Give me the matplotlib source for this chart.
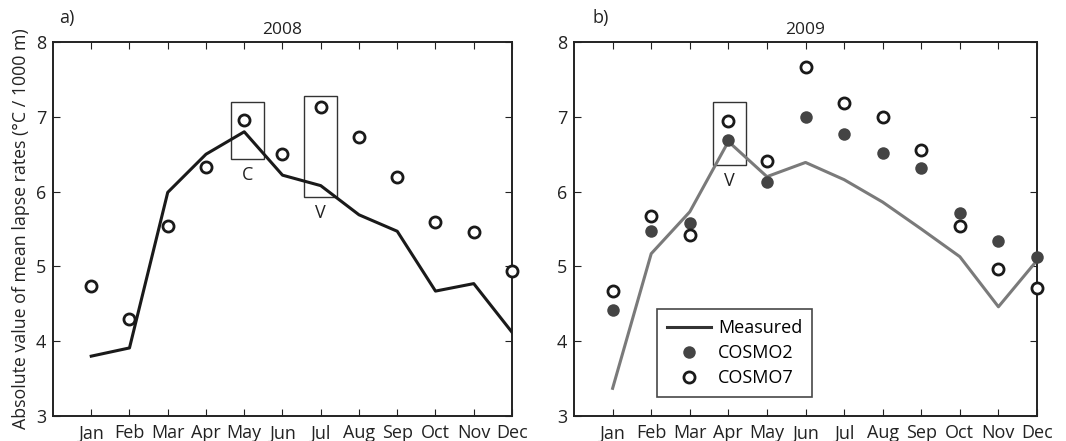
import numpy as np
import matplotlib
matplotlib.use('Agg')
import matplotlib.pyplot as plt
from matplotlib.patches import Rectangle
from matplotlib.lines import Line2D

plt.rcParams['font.family'] = ['Open Sans', 'DejaVu Sans']

# ------------------------------------------
# data
# ------------------------------------------
months = ['Jan', 'Feb', 'Mar', 'Apr', 'May', 'Jun', 'Jul', 'Aug', 'Sep', 'Oct', 'Nov', 'Dec']

meas_2008 = [3.80, 3.91, 5.99, 6.50, 6.80, 6.22, 6.08, 5.69, 5.47, 4.67, 4.77, 4.12]
cosmo7_2008 = [4.74, 4.30, 5.54, 6.33, 6.96, 6.50, 7.13, 6.73, 6.20, 5.59, 5.46, 4.94]

meas_2009 = [3.37, 5.17, 5.73, 6.67, 6.20, 6.39, 6.16, 5.86, 5.50, 5.13, 4.46, 5.08]
cosmo2_2009 = [4.42, 5.47, 5.58, 6.69, 6.13, 7.00, 6.77, 6.52, 6.32, 5.72, 5.34, 5.13]
cosmo7_2009 = [4.67, 5.67, 5.42, 6.95, 6.41, 7.67, 7.18, 7.00, 6.56, 5.54, 4.97, 4.71]

# highlight boxes: (x0, y0, x1, y1), label
boxes_2008 = [((4.66, 6.44, 5.51, 7.20), 'C'), ((6.57, 5.93, 7.42, 7.28), 'V')]
boxes_2009 = [((3.61, 6.36, 4.45, 7.20), 'V')]

x = np.arange(1, 13)

fig = plt.figure(figsize=(10.66, 4.41), dpi=100)
axL = fig.add_axes([0.0497, 0.0567, 0.4306, 0.848])
axR = fig.add_axes([0.5385, 0.0567, 0.4343, 0.848])

FS = 13


def style_axes(ax, title):
    ax.set_xlim(0, 12)
    ax.set_ylim(3, 8)
    ax.set_xticks(x)
    ax.set_xticklabels(months)
    ax.set_yticks([3, 4, 5, 6, 7, 8])
    ax.tick_params(direction='in', top=True, right=True, length=5, width=0.8,
                   labelsize=FS, colors='#222222')
    ax.tick_params(axis='x', pad=6)
    ax.tick_params(axis='y', pad=5)
    for s in ax.spines.values():
        s.set_linewidth(1.4)
        s.set_color('#222222')
    ax.set_title(title, fontsize=12.5, pad=6, color='#222222')


def draw_boxes(ax, boxes):
    for (x0, y0, x1, y1), lab in boxes:
        ax.add_patch(Rectangle((x0, y0), x1 - x0, y1 - y0, fill=False,
                               edgecolor='#333333', lw=1.0, zorder=2))
        ax.text((x0 + x1) / 2, y0 - 0.1, lab, ha='center', va='top',
                fontsize=FS, color='#222222')


# ---------------- 2008 ----------------
axL.plot(x, meas_2008, color='#1a1a1a', lw=2.2, zorder=3)
axL.plot(x, cosmo7_2008, 'o', mfc='white', mec='#1a1a1a', mew=2.0, ms=8,
         clip_on=False, zorder=4)
draw_boxes(axL, boxes_2008)
style_axes(axL, '2008')
axL.set_ylabel('Absolute value of mean lapse rates (°C / 1000 m)', fontsize=12.8,
               labelpad=4, color='#222222')

# ---------------- 2009 ----------------
axR.plot(x, meas_2009, color='#7a7a7a', lw=2.2, zorder=3)
axR.plot(x, cosmo2_2009, 'o', color='#444444', ms=9, mew=0, clip_on=False, zorder=4)
axR.plot(x, cosmo7_2009, 'o', mfc='white', mec='#1a1a1a', mew=2.0, ms=8,
         clip_on=False, zorder=5)
draw_boxes(axR, boxes_2009)
style_axes(axR, '2009')

handles = [Line2D([], [], color='#333333', lw=2.2),
           Line2D([], [], ls='none', marker='o', color='#444444', ms=9, mew=0),
           Line2D([], [], ls='none', marker='o', mfc='white', mec='#1a1a1a', mew=2.0, ms=8)]
leg = axR.legend(handles, ['Measured', 'COSMO2', 'COSMO7'], loc='lower left',
                 bbox_to_anchor=(0.18, 0.05), borderaxespad=0, fancybox=False,
                 edgecolor='#1a1a1a', fontsize=FS, handlelength=2.4,
                 labelspacing=0.4, borderpad=0.55, handletextpad=0.4)
leg.get_frame().set_linewidth(1.2)

fig.text(67 / 1066, 1 - 18 / 441, 'a)', fontsize=FS, ha='center', va='center', color='#222222')
fig.text(601 / 1066, 1 - 18 / 441, 'b)', fontsize=FS, ha='center', va='center', color='#222222')

plt.savefig('out.png', dpi=100)
